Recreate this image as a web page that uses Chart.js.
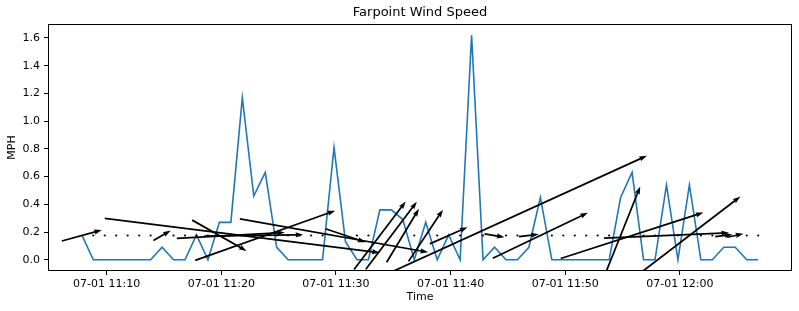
<!DOCTYPE html>
<html>
<head>
<meta charset="utf-8">
<script src="https://cdn.jsdelivr.net/npm/chart.js@4.4.0/dist/chart.umd.min.js"></script>
<style>
    html, body { margin: 0; padding: 0; background: #fff; }
</style>
</head>
<body>
<canvas id="windChart" width="799" height="311"></canvas>
<script>
// sample times (07-01), one per minute
const timeLabels = [
    '11:07:50', '11:08:50', '11:09:50', '11:10:50', '11:11:50', '11:12:50', '11:13:50', '11:14:50', '11:15:50', '11:16:50',
    '11:17:50', '11:18:50', '11:19:50', '11:20:50', '11:21:50', '11:22:50', '11:23:50', '11:24:50', '11:25:50', '11:26:50',
    '11:27:50', '11:28:50', '11:29:50', '11:30:50', '11:31:50', '11:32:50', '11:33:50', '11:34:50', '11:35:50', '11:36:50',
    '11:37:50', '11:38:50', '11:39:50', '11:40:50', '11:41:50', '11:42:50', '11:43:50', '11:44:50', '11:45:50', '11:46:50',
    '11:47:50', '11:48:50', '11:49:50', '11:50:50', '11:51:50', '11:52:50', '11:53:50', '11:54:50', '11:55:50', '11:56:50',
    '11:57:50', '11:58:50', '11:59:50', '12:00:50', '12:01:50', '12:02:50', '12:03:50', '12:04:50', '12:05:50', '12:06:50'
];

// wind speed (MPH)
const windSpeed = [
    0.18, 0, 0, 0, 0, 0, 0, 0.09, 0, 0,
    0.18, 0, 0.27, 0.27, 1.17, 0.46, 0.63, 0.09, 0, 0,
    0, 0, 0.81, 0.13, 0, 0, 0.36, 0.36, 0.29, 0,
    0.27, 0, 0.18, 0, 1.62, 0, 0.09, 0, 0, 0.09,
    0.45, 0, 0, 0, 0, 0, 0, 0.45, 0.63, 0,
    0, 0.54, 0, 0.54, 0, 0, 0.09, 0.09, 0, 0
];

// wind direction vectors (x in minutes, y in MPH)
const windU = [
    3.49, 0, 0, 0, 0, 0, 0, 1.51, 0, 0,
    0, 0, 4.74, 9.42, 23.99, 8.64, 12.21, 0, 0, 0,
    0, 0, 16.43, 3.49, 0, 0, 4.51, 4.45, 2.82, 0,
    3.00, 0, 3.29, 0, 30.59, 0, 1.74, 0, 0, 1.74,
    8.29, 0, 0, 0, 0, 0, 0, 3.42, 12.45, 0,
    0, 10.90, 0, 8.90, 0, 0, 1.50, 1.42, 0, 0
];
const windV = [
    0.079, 0, 0, 0, 0, 0, 0, 0.072, 0, 0,
    0, 0, -0.222, 0.043, -0.247, 0.010, 0.359, 0, 0, 0,
    0, 0, -0.241, -0.097, 0, 0, 0.491, 0.488, 0.385, 0,
    0.373, 0, 0.120, 0, 1.152, 0, -0.024, 0, 0, 0.017,
    0.329, 0, 0, 0, 0, 0, 0, 0.707, 0.332, 0,
    0, 0.039, 0, 0.563, 0, 0, 0.015, 0.025, 0, 0
];
const arrowBase = 0.175;

const xTickLabels = ['07-01 11:10', '07-01 11:20', '07-01 11:30', '07-01 11:40', '07-01 11:50', '07-01 12:00'];
const yTickLabels = ['0.0', '0.2', '0.4', '0.6', '0.8', '1.0', '1.2', '1.4', '1.6'];

// minutes after 11:00
function toMinutes(s) {
    const p = s.split(':').map(Number);
    return (p[0] - 11) * 60 + p[1] + (p[2] || 0) / 60;
}
const times = timeLabels.map(toMinutes);
const xTickValues = xTickLabels.map(l => toMinutes(l.split(' ')[1]));
const yTickValues = yTickLabels.map(Number);

const FONT = 'DejaVu Sans';

// matplotlib style quiver arrow, pivot in the middle
function drawArrow(ctx, x0, y0, x1, y1) {
    const w = 1.75;
    const len = Math.hypot(x1 - x0, y1 - y0);
    if (len < w) {
        ctx.beginPath();
        ctx.arc((x0 + x1) / 2, (y0 + y1) / 2, 1.1, 0, Math.PI * 2);
        ctx.fill();
        return;
    }
    let hl = 4.5 * w, hal = 4 * w, hw = 1.5 * w, sw = 0.5 * w;
    if (len < hl) {
        const k = len / hl;
        hl *= k; hal *= k; hw *= k; sw *= k;
    }
    const c = (x1 - x0) / len, s = (y1 - y0) / len;
    const pts = [[0, -sw], [len - hal, -sw], [len - hl, -hw], [len, 0], [len - hl, hw], [len - hal, sw], [0, sw]];
    ctx.beginPath();
    pts.forEach(([u, v], k) => {
        const px = x0 + u * c - v * s, py = y0 + u * s + v * c;
        if (k === 0) ctx.moveTo(px, py); else ctx.lineTo(px, py);
    });
    ctx.closePath();
    ctx.fill();
}

const quiverPlugin = {
    id: 'quiver',
    afterDatasetsDraw(chart) {
        const {ctx, chartArea: a, scales: {x, y}} = chart;
        ctx.save();
        ctx.beginPath();
        ctx.rect(a.left, a.top, a.right - a.left, a.bottom - a.top);
        ctx.clip();
        ctx.fillStyle = '#000';
        times.forEach((t, i) => {
            const x0 = x.getPixelForValue(t - windU[i] / 2);
            const x1 = x.getPixelForValue(t + windU[i] / 2);
            const y0 = y.getPixelForValue(arrowBase - windV[i] / 2);
            const y1 = y.getPixelForValue(arrowBase + windV[i] / 2);
            drawArrow(ctx, x0, y0, x1, y1);
        });
        ctx.restore();
    },
    afterDraw(chart) {
        const {ctx, chartArea: a} = chart;
        ctx.save();
        ctx.strokeStyle = '#000';
        ctx.lineWidth = 1;
        ctx.strokeRect(Math.round(a.left) + 0.5, Math.round(a.top) + 0.5,
            Math.round(a.right - a.left) - 1, Math.round(a.bottom - a.top) - 1);
        ctx.fillStyle = '#000';
        ctx.textAlign = 'center';
        ctx.textBaseline = 'middle';
        ctx.font = '13px "' + FONT + '"';
        ctx.fillText('Farpoint Wind Speed', (a.left + a.right) / 2, 13);
        ctx.font = '11px "' + FONT + '"';
        ctx.fillText('Time', (a.left + a.right) / 2, 297);
        ctx.translate(12, (a.top + a.bottom) / 2);
        ctx.rotate(-Math.PI / 2);
        ctx.fillText('MPH', 0, 0);
        ctx.restore();
    }
};

const ctx = document.getElementById('windChart').getContext('2d');
new Chart(ctx, {
    type: 'line',
    data: {
        datasets: [{
            label: 'Wind Speed',
            data: times.map((t, i) => ({x: t, y: windSpeed[i]})),
            borderColor: '#1f77b4',
            borderWidth: 1.6,
            pointRadius: 0,
            tension: 0,
            fill: false
        }]
    },
    options: {
        responsive: false,
        animation: false,
        devicePixelRatio: 1,
        layout: {padding: {top: 24, right: 7, left: 0, bottom: 0}},
        plugins: {legend: {display: false}, tooltip: {enabled: false}, title: {display: false}},
        scales: {
            x: {
                type: 'linear',
                min: 4.883,
                max: 69.783,
                afterBuildTicks: axis => { axis.ticks = xTickValues.map(v => ({value: v})); },
                afterFit: axis => { axis.height = 40; },
                grid: {drawOnChartArea: false, drawTicks: true, tickLength: 4, color: '#000'},
                border: {display: false},
                ticks: {
                    autoSkip: false, maxRotation: 0, color: '#000', padding: 3,
                    font: {family: FONT, size: 11},
                    callback: v => xTickLabels[xTickValues.findIndex(t => Math.abs(t - v) < 1e-6)]
                }
            },
            y: {
                min: -0.081,
                max: 1.701,
                afterBuildTicks: axis => { axis.ticks = yTickValues.map(v => ({value: v})); },
                afterFit: axis => { axis.width = 48; },
                grid: {drawOnChartArea: false, drawTicks: true, tickLength: 4, color: '#000'},
                border: {display: false},
                ticks: {
                    color: '#000', padding: 4,
                    font: {family: FONT, size: 11},
                    callback: v => yTickLabels[yTickValues.findIndex(t => Math.abs(t - v) < 1e-6)]
                }
            }
        }
    },
    plugins: [quiverPlugin]
});
</script>
</body>
</html>
